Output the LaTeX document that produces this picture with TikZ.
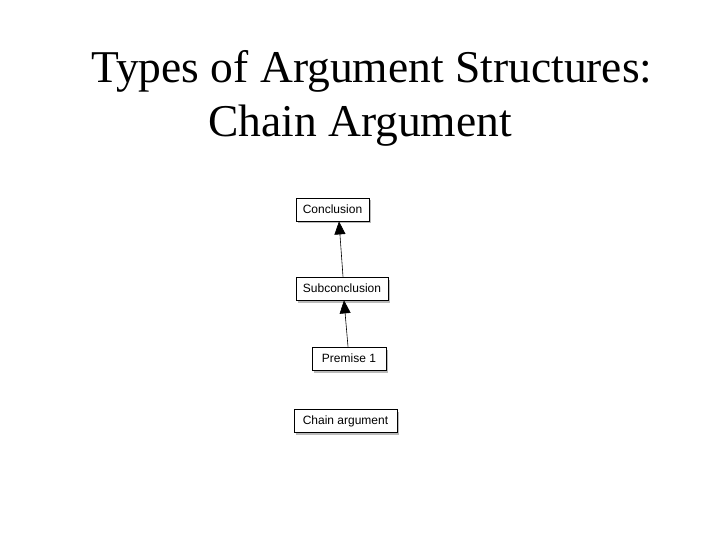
\documentclass[tikz,border=0pt]{standalone}
\usepackage{fontspec}
\setmainfont{Liberation Serif}
\newfontfamily\boxfont{Liberation Sans}
\usetikzlibrary{arrows.meta,shadows}
\tikzset{
  heading/.style={font=\fontsize{45.5}{54}\selectfont,anchor=base,inner sep=0pt},
  argbox/.style={draw,thick,fill=white,font=\boxfont\fontsize{12}{14}\selectfont,
    minimum height=23pt,inner sep=0pt,
    drop shadow={shadow xshift=2pt,shadow yshift=-2.5pt,fill=black!45,opacity=.6}},
  supports/.style={-{Triangle[length=13pt,width=11pt]},line width=0.6pt}
}
\begin{document}
\begin{tikzpicture}[x=1pt,y=-1pt]
\useasboundingbox (0,0) rectangle (720,540);
\fill[white] (0,0) rectangle (720,540);
% title
\node[heading] (title) at (372,83) {Types of Argument Structures:};
\node[heading] (subtitle) at (360,137) {Chain Argument};
% the chain
\node[argbox,minimum width=73pt] (concl) at (332.5,209.5) {Conclusion};
\node[argbox,minimum width=92pt] (sub) at (342,288.5) {Subconclusion};
\node[argbox,minimum width=74pt] (prem) at (349,358.5) {Premise 1};
\node[argbox,minimum width=103pt] (caption) at (345.5,421) {Chain argument};
\draw[supports] ([xshift=1]sub.north) -- ([xshift=6.5]concl.south);
\draw[supports] ([xshift=-1]prem.north) -- ([xshift=2]sub.south);
\end{tikzpicture}
\end{document}
